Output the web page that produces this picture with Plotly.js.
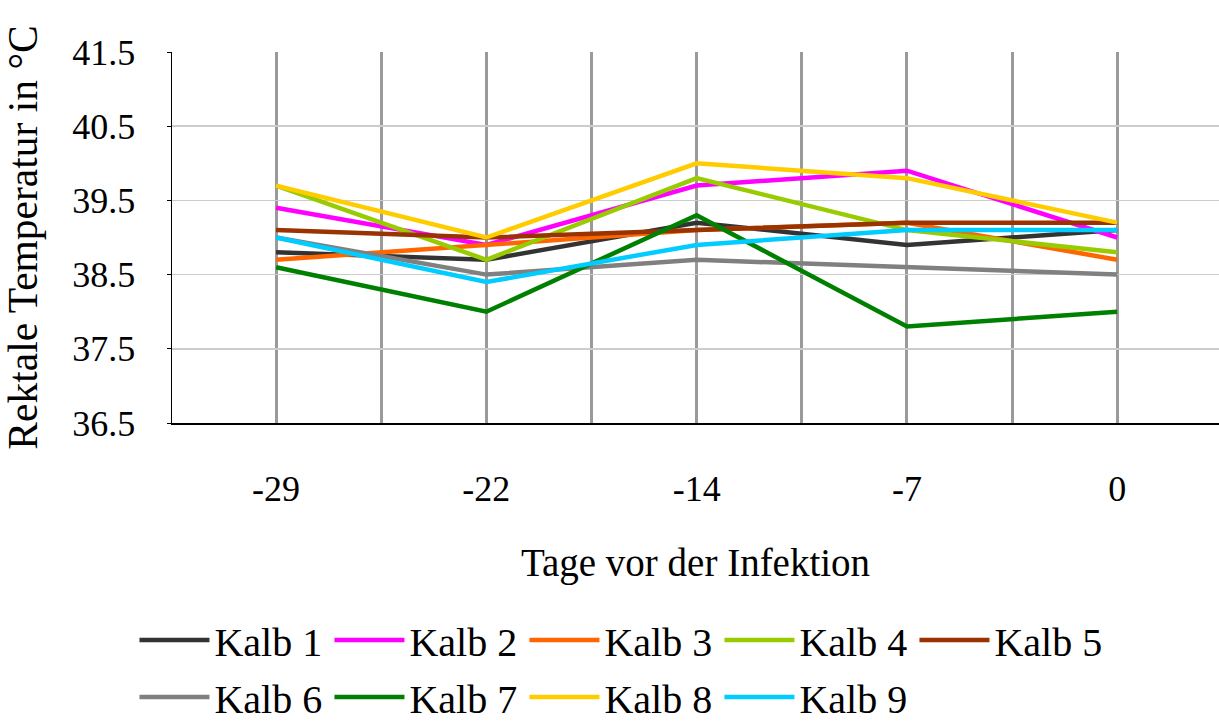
<!DOCTYPE html>
<html>
<head>
<meta charset="utf-8">
<script src="https://cdn.plot.ly/plotly-3.0.1.min.js"></script>
<style>html,body{margin:0;padding:0;background:#fff;}#chart{width:1219px;height:722px;}</style>
</head>
<body>
<div id="chart"></div>
<script>
var categories = ['-29', '-22', '-14', '-7', '0'];
var kalb1 = [38.8, 38.7, 39.2, 38.9, 39.1];
var kalb2 = [39.4, 38.9, 39.7, 39.9, 39.0];
var kalb3 = [38.7, 38.9, 39.1, 39.2, 38.7];
var kalb4 = [39.7, 38.7, 39.8, 39.1, 38.8];
var kalb5 = [39.1, 39.0, 39.1, 39.2, 39.2];
var kalb6 = [39.0, 38.5, 38.7, 38.6, 38.5];
var kalb7 = [38.6, 38.0, 39.3, 37.8, 38.0];
var kalb8 = [39.7, 39.0, 40.0, 39.8, 39.2];
var kalb9 = [39.0, 38.4, 38.9, 39.1, 39.1];
var seriesNames = ['Kalb 1','Kalb 2','Kalb 3','Kalb 4','Kalb 5','Kalb 6','Kalb 7','Kalb 8','Kalb 9'];
var seriesValues = [kalb1,kalb2,kalb3,kalb4,kalb5,kalb6,kalb7,kalb8,kalb9];
var seriesColors = ['#333333','#ff00ff','#ff6600','#99cc00','#993300','#808080','#008000','#ffcc00','#00ccff'];
var yTicks = [36.5, 37.5, 38.5, 39.5, 40.5, 41.5];

var xIdx = categories.map(function(c,i){return i;});
var gridVals = [], gridText = [];
for (var i = 0; i < categories.length; i++) {
  gridVals.push(i); gridText.push(categories[i]);
  gridVals.push(i + 0.5); gridText.push('');
}

var font = 'Liberation Serif';
var traces = seriesNames.map(function(n, i){
  return {
    x: xIdx, y: seriesValues[i], name: n, type: 'scatter', mode: 'lines',
    line: {color: seriesColors[i], width: 4.5},
    legend: i < 5 ? 'legend' : 'legend2'
  };
});

var legendCommon = {
  orientation: 'h', font: {family: font, size: 40, color: '#000'},
  xref: 'container', yref: 'container',
  xanchor: 'left', yanchor: 'middle', bgcolor: 'rgba(0,0,0,0)',
  entrywidth: 110, entrywidthmode: 'pixels', itemwidth: 70, tracegroupgap: 0
};

var layout = {
  width: 1219, height: 722,
  margin: {l: 172, r: 0, t: 52, b: 299},
  paper_bgcolor: '#fff', plot_bgcolor: '#fff',
  showlegend: true,
  font: {family: font, color: '#000'},
  xaxis: {
    range: [-0.495, 4.484], tickmode: 'array', tickvals: gridVals, ticktext: gridText,
    showgrid: true, gridcolor: '#9a9a9a', gridwidth: 3, zeroline: false,
    showline: true, linecolor: '#000', linewidth: 1.5, ticks: '',
    ticklabelstandoff: 33,
    tickfont: {family: font, size: 36, color: '#000'},
    title: {text: 'Tage vor der Infektion', font: {family: font, size: 39, color: '#000'}, standoff: 41}
  },
  yaxis: {
    range: [36.5, 41.5], tickmode: 'array', tickvals: yTicks, ticktext: yTicks.map(function(v){return v.toFixed(1);}),
    showgrid: true, gridcolor: '#cccccc', gridwidth: 1.5, zeroline: false,
    showline: true, linecolor: '#000', linewidth: 1.5, ticks: 'outside', ticklen: 4, tickcolor: '#000',
    ticklabelstandoff: 24, automargin: true,
    tickfont: {family: font, size: 36, color: '#000'},
    title: {text: 'Rektale Temperatur in °C', font: {family: font, size: 41.5, color: '#000'}, standoff: 24}
  },
  legend: Object.assign({x: 0.1103, y: 0.1136}, legendCommon),
  legend2: Object.assign({x: 0.1103, y: 0.0346}, legendCommon)
};

Plotly.newPlot('chart', traces, layout, {displayModeBar: false, staticPlot: true});
</script>
</body>
</html>
